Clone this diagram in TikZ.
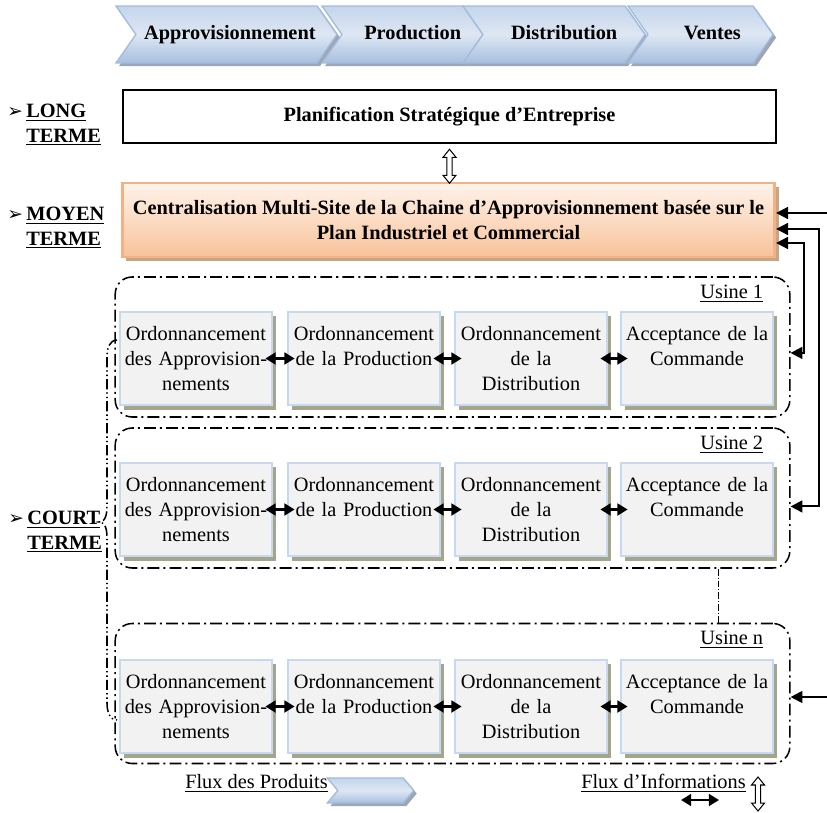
\documentclass[12pt,tikz,border=0pt]{standalone}
\usepackage{fontspec}
\setmainfont{Liberation Serif}
\newfontfamily\symbfont{DejaVu Sans}
\usetikzlibrary{arrows.meta,shapes.symbols,shadows,positioning}

\definecolor{chevtop}{HTML}{C4D5EB}
\definecolor{chevmid}{HTML}{DEE7F3}
\definecolor{chevbot}{HTML}{A6BFDF}
\definecolor{chevedge}{HTML}{A3BCDC}
\definecolor{chevshadow}{HTML}{9CA6B4}
\definecolor{orangeedge}{HTML}{F4B183}
\definecolor{orangetop}{HTML}{FEF3EA}
\definecolor{orangebot}{HTML}{F8C29A}
\definecolor{orangeshadow}{HTML}{C7A585}
\definecolor{taskfill}{HTML}{F2F2F2}
\definecolor{taskedge}{HTML}{C6D9F1}
\definecolor{taskshadow}{HTML}{A4A68B}

\newcommand\arrowhd{{\symbfont\fontsize{11pt}{11pt}\selectfont ➢}}

\tikzstyle{chevron}=[signal, signal to=east, signal from=west, signal pointer angle=110,
  draw=chevedge, line width=0.8pt, top color=chevtop, bottom color=chevbot, middle color=chevmid,
  minimum height=33.6pt, inner sep=0pt, text height=8.5pt, text depth=2.5pt, font=\bfseries,
  drop shadow={shadow xshift=1.8pt, shadow yshift=-1.8pt, fill=chevshadow, opacity=1}]
\tikzstyle{plan}=[rectangle, draw, line width=1.4pt, fill=white, minimum width=385pt,
  minimum height=31.3pt, font=\bfseries]
\tikzstyle{central}=[rectangle, draw=orangeedge, line width=1.6pt, top color=orangetop,
  bottom color=orangebot, minimum width=385pt, minimum height=43.7pt, align=center, font=\bfseries,
  drop shadow={shadow xshift=2.4pt, shadow yshift=-2.4pt, fill=orangeshadow, opacity=1}]
\tikzstyle{usine}=[rectangle, draw, rounded corners=10pt, line width=0.9pt,
  dash pattern=on 7pt off 2.4pt on 1.2pt off 2.4pt, minimum width=398pt, minimum height=82.6pt]
\tikzstyle{task}=[rectangle, draw=taskedge, line width=0.8pt, fill=taskfill, minimum width=89.5pt,
  minimum height=55pt, text width=86pt, align=center, inner sep=0pt,
  drop shadow={shadow xshift=2.4pt, shadow yshift=-2.6pt, fill=taskshadow, opacity=1}]
\tikzstyle{term}=[anchor=west, align=left, inner sep=0pt, font=\bfseries]
\tikzstyle{flow}=[{Triangle[length=6pt,width=7pt]}-{Triangle[length=6pt,width=7pt]}, line width=1.3pt,
  shorten <=-4.2pt, shorten >=-4.2pt]
\tikzstyle{link}=[{Triangle[length=7pt,width=7pt]}-{Triangle[length=7pt,width=7pt]}, line width=1.2pt]
\tikzstyle{feed}=[-{Triangle[length=7pt,width=7pt]}, line width=1.2pt]
\tikzstyle{brace}=[line width=0.9pt, dash pattern=on 6pt off 1.8pt on 0.8pt off 1.8pt on 0.8pt off 1.8pt]
\tikzstyle{dots}=[line width=0.5pt, dash pattern=on 4pt off 1.2pt on 0.6pt off 1.2pt]

\tikzset{updown/.pic={
  \draw[fill=white, line width=0.6pt] (0,0) -- (6.5,8) -- (2.7,8) -- (2.7,26) -- (6.5,26) -- (0,34)
    -- (-6.5,26) -- (-2.7,26) -- (-2.7,8) -- (-6.5,8) -- cycle;
}}

\begin{document}
\begin{tikzpicture}[x=0.59pt, y=-0.59pt]
    \useasboundingbox (0,0) rectangle (827,813);

    % chain of activities along the top
    \foreach \name/\x/\w/\o/\txt in {appro/226.5/130.4/4/Approvisionnement, prod/402.5/95/12/Production,
                                     dist/554/107.4/12/Distribution, vente/700.5/85.6/14/Ventes}
        \node[chevron, minimum width=\w pt] (\name) at (\x,34.5) {\hspace*{\o pt}\txt};

    % planning levels
    \node[plan] (plan) at (449.5,116.5) {Planification Stratégique d’Entreprise};
    \node[central] (central) at (448.5,220)
        {Centralisation Multi-Site de la Chaine d’Approvisionnement basée sur le\\Plan Industriel et Commercial};
    \pic at ([yshift=-3pt]plan.south) {updown};

    \node[term] (long) at (26,125) {\llap{\arrowhd\,}\underline{LONG}\\\underline{TERME}};
    \node[term] (moyen) at (26,228) {\llap{\arrowhd\,}\underline{MOYEN}\\\underline{TERME}};
    \node[term] (court) at (27,532) {\llap{\arrowhd\,}\underline{COURT}\\\underline{TERME}};

    % one frame per plant, then its four tasks
    \foreach \r/\y in {1/347, 2/498, n/693.5} {
        \node[usine] (usine\r) at (452.5,\y) {};
        \node[anchor=base east] at ([xshift=-12pt,yshift=-13pt]usine\r.north east) {\underline{Usine \r}};
    }
    \foreach \r/\y in {1/358.5, 2/509.5, n/706.5} {
        \node[task] (b\r1) at (196,\y) {Ordonnancement\\des Approvision-\\nements};
        \node[task] (b\r2) at (364,\y) {Ordonnancement\\de la Production\\~};
        \node[task] (b\r3) at (531,\y) {Ordonnancement\\de la\\Distribution};
        \node[task] (b\r4) at (697,\y) {Acceptance de la\\Commande\\~};
        \foreach \s/\d in {1/2, 2/3, 3/4}
            \path[flow] (b\r\s) edge (b\r\d);
    }
    \draw[dots] ([xshift=156.6pt]usine2.south) -- ([xshift=156.6pt]usinen.north);

    % brace of the short term
    \draw[brace] (117,340) to[out=180,in=90] (107,356) -- (107,505) to[out=-90,in=0] (99,522)
        to[out=0,in=90] (107,539) -- (107,703) to[out=-90,in=180] (117,720);

    % information links on the right
    \coordinate (in1) at (827,213);
    \coordinate (bus2) at (819,229);
    \coordinate (bus1) at (804,243);
    \coordinate (inn) at (827,697);
    \draw[feed] (in1) -- (in1 -| central.east);
    \draw[link] ([yshift=-5pt]usine2.east) -| (bus2) -- (bus2 -| central.east);
    \draw[link] ([yshift=-3.5pt]usine1.east) -| (bus1) -- (bus1 -| central.east);
    \draw[feed] (inn) -- (inn -| usinen.east);

    % legend
    \node[anchor=east, inner sep=0pt] (fluxp) at (328,783) {\underline{Flux des Produits}};
    \node[chevron, minimum width=51pt, minimum height=14.8pt, signal pointer angle=100] (legp) at (370.5,790.5) {};
    \node[anchor=east, inner sep=0pt] (fluxi) at (746,783) {\underline{Flux d’Informations}};
    \coordinate (la) at (681,800);
    \coordinate (lb) at (719,800);
    \draw[flow, shorten <=0pt, shorten >=0pt] (la) -- (lb);
    \pic at (758,777) {updown};
\end{tikzpicture}
\end{document}
